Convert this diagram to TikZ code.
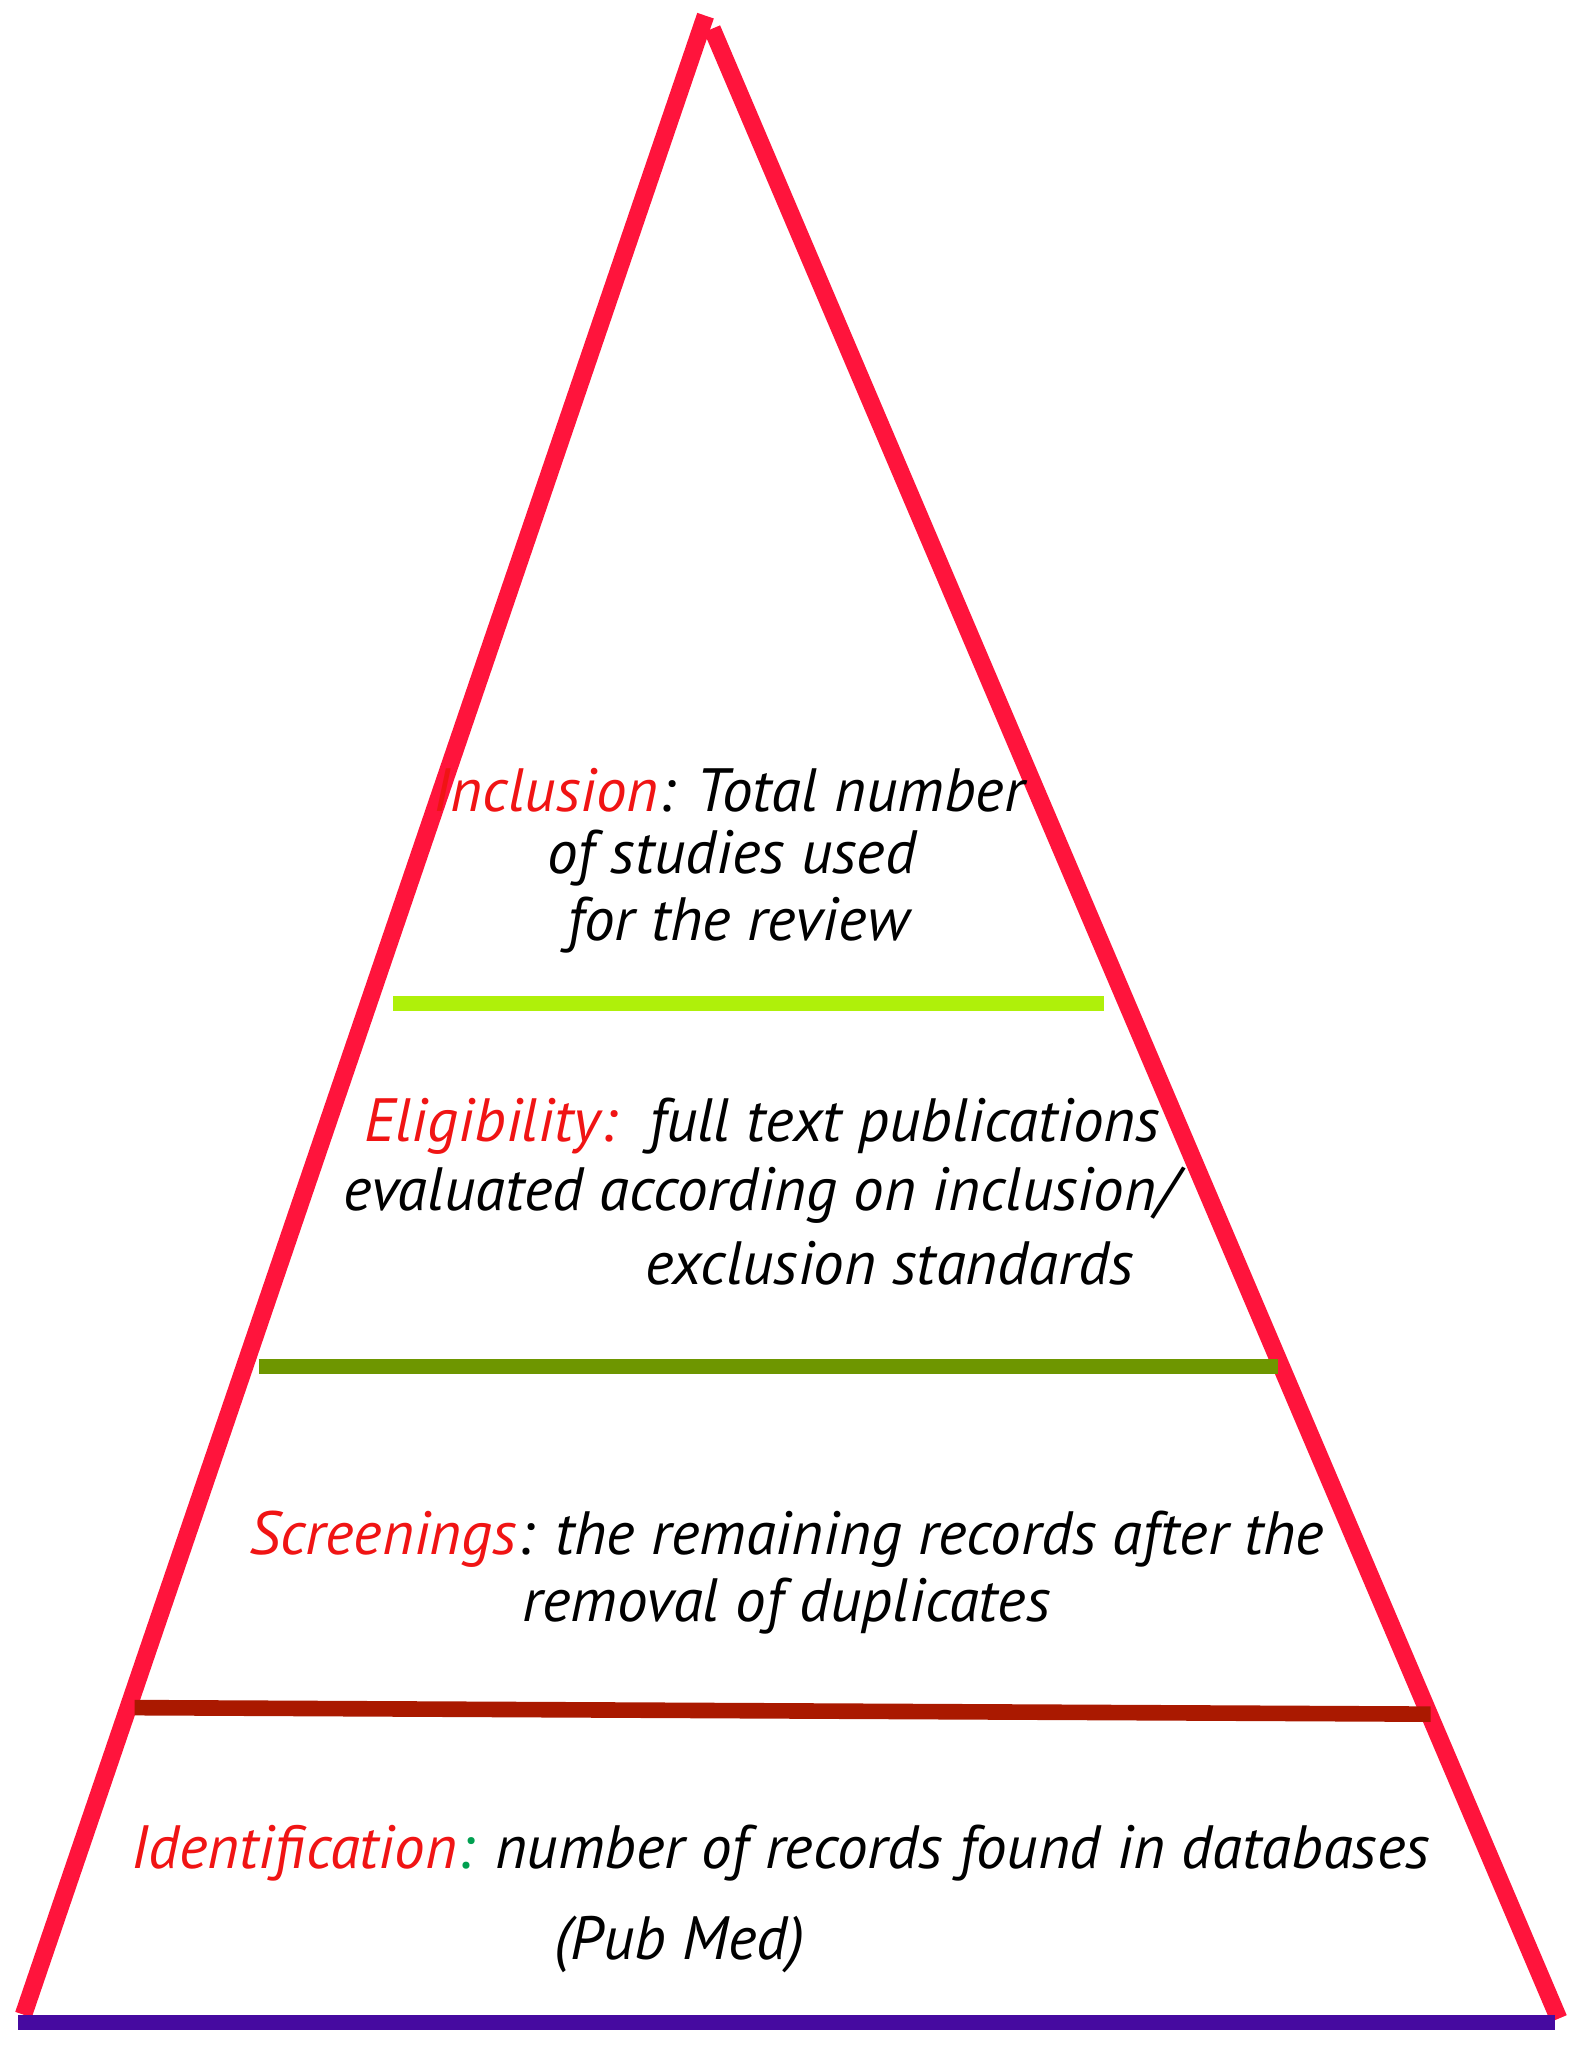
\documentclass[tikz,border=0pt]{standalone}
\usepackage{fontspec}
\setmainfont{PT Sans}
\definecolor{pyrred}{RGB}{255,20,60}
\definecolor{txtred}{RGB}{240,20,20}
\definecolor{limebar}{RGB}{175,240,10}
\definecolor{olivebar}{RGB}{110,150,0}
\definecolor{rustbar}{RGB}{170,25,0}
\definecolor{basebar}{RGB}{70,10,160}
\definecolor{dotgreen}{RGB}{0,160,80}
\tikzset{
  edge/.style={line width=3.8pt, pyrred},
  bar/.style={line width=3.4pt},
  lbl/.style={font=\fontsize{13.3}{15}\selectfont\itshape, inner sep=0pt, align=center},
  hd/.style={txtred}
}
\begin{document}
\begin{tikzpicture}[x=0.01cm, y=-0.01cm]
\useasboundingbox (0,0) rectangle (1210,1566);
% outline
\coordinate (apexl) at (540,12);
\coordinate (apexr) at (545,22);
\coordinate (baseleft) at (18,1542);
\coordinate (baseright) at (1193,1545);
\draw[edge] (apexl) -- (baseleft);
\draw[edge] (apexr) -- (baseright);
\coordinate (b1) at (14,1548);
\coordinate (b2) at (1190,1548);
\draw[bar, basebar] (b1) -- (b2);
% level bars
\coordinate (g1) at (301,768);
\coordinate (g2) at (845,768);
\draw[bar, limebar] (g1) -- (g2);
\coordinate (o1) at (198,1046);
\coordinate (o2) at (978,1046);
\draw[bar, olivebar] (o1) -- (o2);
\coordinate (r1) at (103,1307);
\coordinate (r2) at (1095,1312);
\draw[bar, rustbar] (r1) -- (r2);
% labels
\node[lbl] (incl1) at (558,605) {\textcolor{txtred}{Inclusion}: Total number};
\node[lbl] (incl2) at (560,657) {of studies used};
\node[lbl] (incl3) at (565,708) {for the review};
\node[lbl, anchor=west] (elig1) at (278,862) {\textcolor{txtred}{Eligibility:}\ \ full text publications};
\node[lbl, anchor=west] (elig2) at (262,915) {evaluated according on inclusion/};
\node[lbl, anchor=west] (elig3) at (493,967) {exclusion standards};
\node[lbl, anchor=west] (scr1) at (190,1178) {\textcolor{txtred}{Screenings}: the remaining records after the};
\node[lbl] (scr2) at (602,1229) {removal of duplicates};
\node[lbl, anchor=west] (ident1) at (100,1418) {\textcolor{txtred}{Identification}\textcolor{dotgreen}{:} number of records found in databases};
\node[lbl] (ident2) at (520,1488) {(Pub Med)};
\end{tikzpicture}
\end{document}
